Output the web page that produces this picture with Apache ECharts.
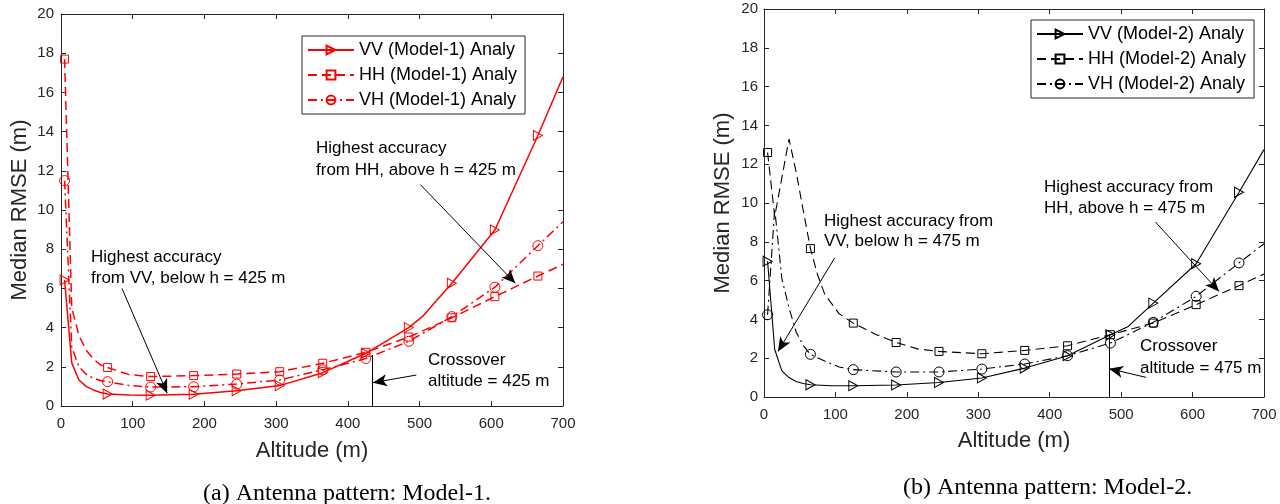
<!DOCTYPE html>
<html>
<head>
<meta charset="utf-8">
<script src="https://cdn.jsdelivr.net/npm/echarts@6/dist/echarts.min.js"></script>
<style>
  html, body { margin: 0; padding: 0; background: #fff; }
  #chart { width: 1280px; height: 504px; }
</style>
</head>
<body>
<div id="chart"></div>
<script>
// markers are drawn every 60 m
const markerAlt = [5, 65, 125, 185, 245, 305, 365, 425, 485, 545, 605, 665];

// Model-1 : [altitude (m), median RMSE (m)]
const vvModel1 = [[5,6.43],[15,2.2],[25,1.33],[35,1.0],[45,0.82],[55,0.69],[65,0.61],[95,0.56],[125,0.55],[185,0.6],[245,0.78],[305,1.04],[365,1.7],[425,2.69],[485,4.0],[505,4.6],[545,6.26],[605,8.98],[665,13.8],[700,16.8]];
const hhModel1 = [[5,17.7],[15,5.0],[25,3.6],[35,2.85],[45,2.4],[55,2.1],[65,1.96],[95,1.6],[125,1.5],[185,1.55],[245,1.63],[305,1.75],[365,2.18],[425,2.74],[485,3.52],[545,4.5],[605,5.58],[665,6.63],[700,7.23]];
const vhModel1 = [[5,11.5],[15,3.0],[25,2.0],[35,1.62],[45,1.42],[55,1.3],[65,1.24],[95,1.05],[125,0.97],[185,0.98],[245,1.12],[305,1.33],[365,1.85],[425,2.42],[485,3.3],[545,4.56],[605,6.06],[665,8.18],[700,9.4]];

// Model-2
const vvModel2 = [[5,7.0],[15,2.45],[25,1.35],[35,1.0],[45,0.8],[55,0.7],[65,0.63],[95,0.58],[125,0.58],[185,0.62],[245,0.75],[305,0.98],[365,1.49],[412,1.98],[425,2.13],[485,3.21],[510,3.64],[545,4.84],[605,6.87],[665,10.55],[700,12.75]];
const hhModel2 = [[5,12.6],[15,9.3],[25,11.3],[35,13.3],[45,11.6],[55,9.6],[65,7.65],[75,6.3],[85,5.3],[105,4.3],[125,3.81],[155,3.25],[185,2.81],[215,2.48],[245,2.35],[305,2.23],[365,2.4],[425,2.64],[485,3.21],[545,3.81],[605,4.76],[665,5.74],[700,6.34]];
const vhModel2 = [[5,4.24],[15,9.7],[25,6.1],[35,4.6],[45,3.35],[55,2.65],[65,2.2],[85,1.85],[105,1.55],[125,1.41],[185,1.29],[245,1.29],[305,1.44],[365,1.7],[425,2.13],[485,2.78],[545,3.85],[605,5.19],[665,6.91],[700,7.9]];

const names1 = ['VV (Model-1) Analy', 'HH (Model-1) Analy', 'VH (Model-1) Analy'];
const names2 = ['VV (Model-2) Analy', 'HH (Model-2) Analy', 'VH (Model-2) Analy'];

// annotation arrows [from, to] in data units
const arrows1 = [[[85,6.0],[148,0.65]], [[501,11.3],[633.6,6.26]], [[495.5,1.58],[435,1.19]]];
const cross1 = [[433.5,2.6],[433.5,0]];
const arrows2 = [[[99,7.17],[19.6,2.35]], [[548,9.02],[637,5.44]], [[535,1.01],[483,1.46]]];
const cross2 = [[483,3.25],[483,0]];

const FONT = '"Liberation Sans", Arial, Helvetica, sans-serif';
const AX = '#262626';
const RED = '#ff0000';
const TRI = 'path://M0,0L10,5L0,10Z';

function toData(pts) {
    return pts.map(p => markerAlt.indexOf(p[0]) >= 0 ? p : {value: p, symbol: 'none'});
}

function makeSeries(name, pts, axis, color, width, dash, symbol, size) {
    return {
        name: name, type: 'line', xAxisIndex: axis, yAxisIndex: axis,
        data: toData(pts), symbol: symbol, symbolSize: size, showSymbol: true,
        lineStyle: {color: color, width: width, type: dash},
        itemStyle: {color: 'rgba(0,0,0,0)', borderColor: color, borderWidth: 1},
        emphasis: {disabled: true}, silent: true
    };
}

function markLines(arrows, cross) {
    const data = arrows.map(a => [{coord: a[0], symbol: 'none'}, {coord: a[1], symbol: 'arrow'}]);
    data.push([{coord: cross[0], symbol: 'none'}, {coord: cross[1], symbol: 'none'}]);
    return {
        silent: true, animation: false, symbolSize: [9, 14],
        label: {show: false}, emphasis: {disabled: true},
        lineStyle: {color: '#000', width: 1, type: 'solid'},
        data: data
    };
}

function xAx(grid, top) {
    return {
        gridIndex: grid, type: 'value', min: 0, max: 700, interval: 100,
        position: top ? 'top' : 'bottom',
        axisLine: {onZero: false, lineStyle: {color: AX, width: 1}},
        axisTick: {inside: true, length: 5, lineStyle: {color: AX}},
        axisLabel: {show: !top, fontFamily: FONT, fontSize: 15, color: AX, margin: 10},
        splitLine: {show: false},
        name: top ? '' : 'Altitude (m)', nameLocation: 'middle', nameGap: grid ? 33 : 34,
        nameTextStyle: {fontFamily: FONT, fontSize: 22, color: AX}
    };
}

function yAx(grid, right) {
    return {
        gridIndex: grid, type: 'value', min: 0, max: 20, interval: 2,
        position: right ? 'right' : 'left',
        axisLine: {onZero: false, lineStyle: {color: AX, width: 1}},
        axisTick: {inside: true, length: 5, lineStyle: {color: AX}},
        axisLabel: {show: !right, fontFamily: FONT, fontSize: 15, color: AX, margin: grid ? 6 : 7},
        splitLine: {show: false},
        name: right ? '' : 'Median RMSE (m)', nameLocation: 'middle', nameGap: 30,
        nameTextStyle: {fontFamily: FONT, fontSize: 22, color: AX}
    };
}

function legend(names, left, top) {
    return {
        data: names, orient: 'vertical', left: left, top: top,
        itemWidth: 46, itemHeight: 11, itemGap: 7,
        padding: [5, 8, 5, 5], borderColor: AX, borderWidth: 1, backgroundColor: '#fff',
        selectedMode: false,
        textStyle: {fontFamily: FONT, fontSize: 18, color: '#000', lineHeight: 18}
    };
}

function note(text, x, y, lh) {
    return {type: 'text', left: x, top: y, silent: true,
        style: {text: text, font: '17px ' + FONT, fill: '#000', lineHeight: lh}};
}

// grid 0 uses axes 0 (bottom/left) and 1 (top/right); grid 1 uses axes 2 and 3
const series = [
    makeSeries(names1[0], vvModel1, 0, RED, 1.5, 'solid', TRI, [9, 10]),
    makeSeries(names1[1], hhModel1, 0, RED, 1.5, [9, 5], 'rect', 8),
    makeSeries(names1[2], vhModel1, 0, RED, 1.5, [9, 4, 2, 4], 'circle', 10),
    makeSeries(names2[0], vvModel2, 2, '#000', 1.1, 'solid', TRI, [9, 10]),
    makeSeries(names2[1], hhModel2, 2, '#000', 1.1, [9, 5], 'rect', 8),
    makeSeries(names2[2], vhModel2, 2, '#000', 1.1, [9, 4, 2, 4], 'circle', 10)
];
series[2].markLine = markLines(arrows1, cross1);
series[5].markLine = markLines(arrows2, cross2);

const chart = echarts.init(document.getElementById('chart'));
chart.setOption({
    animation: false,
    backgroundColor: '#fff',
    grid: [
        {left: 61, top: 14, width: 502, height: 392},
        {left: 764, top: 9, width: 500, height: 388}
    ],
    xAxis: [xAx(0, false), xAx(0, true), xAx(1, false), xAx(1, true)],
    yAxis: [yAx(0, false), yAx(0, true), yAx(1, false), yAx(1, true)],
    legend: [legend(names1, 302, 36), legend(names2, 1031, 20)],
    series: series,
    graphic: [
        note('Highest accuracy\nfrom VV, below h = 425 m', 91, 247, 21),
        note('Highest accuracy\nfrom HH, above h = 425 m', 316, 137, 22),
        note('Crossover\naltitude = 425 m', 428, 350, 21),
        note('Highest accuracy from\nVV, below h = 475 m', 824, 211, 20),
        note('Highest accuracy from\nHH, above h = 475 m', 1044, 177, 21),
        note('Crossover\naltitude = 475 m', 1140, 335, 22),
        {type: 'text', left: 203, top: 482, silent: true,
            style: {text: '(a) Antenna pattern: Model-1.', font: '24px "Liberation Serif", "Times New Roman", serif', fill: '#000'}},
        {type: 'text', left: 903, top: 476, silent: true,
            style: {text: '(b) Antenna pattern: Model-2.', font: '24px "Liberation Serif", "Times New Roman", serif', fill: '#000'}}
    ]
});
</script>
</body>
</html>
